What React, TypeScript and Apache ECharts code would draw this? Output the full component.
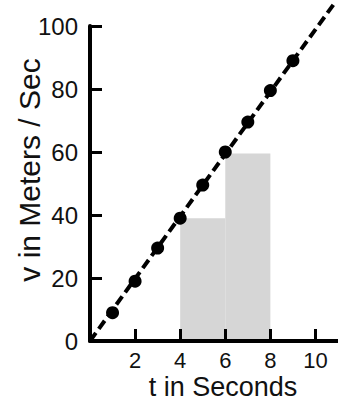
import React, { useEffect, useRef } from "react";
import * as echarts from "echarts";

const seconds = [1, 2, 3, 4, 5, 6, 7, 8, 9];
const velocity = [9, 19, 29.5, 39, 49.5, 60, 69.5, 79.5, 89];
const fitLine = [
  [0, 0],
  [10.9, 107.8],
];
const stepStart = [4, 6];
const stepEnd = [6, 8];
const stepHeight = [39, 59.5];
const xTicks = [2, 4, 6, 8, 10];
const yTicks = [0, 20, 40, 60, 80, 100];

const FONT = "Liberation Sans, Arial, Helvetica, sans-serif";

export default function App() {
  const ref = useRef<HTMLDivElement>(null);
  useEffect(() => {
    if (!ref.current) return;
    const chart = echarts.init(ref.current, null, { renderer: "svg" });
    const points = seconds.map((t, i) => [t, velocity[i]]);
    const steps = stepStart.map((s, i) => [s, stepEnd[i], stepHeight[i]]);
    chart.setOption({
      animation: false,
      backgroundColor: "#fff",
      grid: {
        left: 90,
        right: 0,
        top: 26,
        bottom: 61,
        containLabel: false,
        outerBoundsMode: "none",
      },
      xAxis: {
        type: "value",
        min: 0,
        max: 11,
        interval: 2,
        name: "t in Seconds",
        nameLocation: "middle",
        nameGap: 32,
        nameMoveOverlap: false,
        nameTextStyle: {
          fontFamily: FONT,
          fontSize: 27,
          lineHeight: 27,
          color: "#111",
          padding: [0, 0, 0, 18],
        },
        splitLine: { show: false },
        axisLine: { show: true, lineStyle: { color: "#000", width: 4 } },
        axisTick: {
          show: true,
          inside: true,
          length: 12,
          customValues: xTicks,
          lineStyle: { color: "#000", width: 3 },
        },
        axisLabel: {
          customValues: xTicks,
          fontFamily: FONT,
          fontSize: 22,
          color: "#111",
          margin: 8,
        },
      },
      yAxis: {
        type: "value",
        min: 0,
        max: 100,
        interval: 20,
        name: "v in Meters / Sec",
        nameLocation: "middle",
        nameGap: 46,
        nameRotate: 90,
        nameMoveOverlap: false,
        nameTextStyle: {
          fontFamily: FONT,
          fontSize: 30,
          color: "#111",
          padding: [0, 0, 0, 27],
        },
        splitLine: { show: false },
        axisLine: { show: true, lineStyle: { color: "#000", width: 4 } },
        axisTick: {
          show: true,
          inside: true,
          length: 12,
          customValues: yTicks,
          lineStyle: { color: "#000", width: 3 },
        },
        axisLabel: {
          customValues: yTicks,
          fontFamily: FONT,
          fontSize: 24,
          color: "#111",
          margin: 12,
        },
      },
      series: [
        {
          type: "custom",
          z: -1,
          data: steps,
          encode: { x: [0, 1], y: 2 },
          renderItem: (params: any, api: any) => {
            const p0 = api.coord([api.value(0), api.value(2)]);
            const p1 = api.coord([api.value(1), 0]);
            return {
              type: "rect",
              shape: {
                x: p0[0],
                y: p0[1],
                width: p1[0] - p0[0],
                height: p1[1] - p0[1],
              },
              style: { fill: "#d6d6d6" },
            };
          },
        },
        {
          type: "line",
          data: fitLine,
          showSymbol: false,
          clip: false,
          z: 3,
          lineStyle: { color: "#000", width: 4, type: [10, 5] },
        },
        {
          type: "scatter",
          data: points,
          symbolSize: 13,
          z: 4,
          itemStyle: { color: "#000", opacity: 1 },
        },
      ],
    });
    return () => chart.dispose();
  }, []);
  return (
    <div
      ref={ref}
      style={{ position: "fixed", left: 0, top: 0, width: 338, height: 402 }}
    />
  );
}
